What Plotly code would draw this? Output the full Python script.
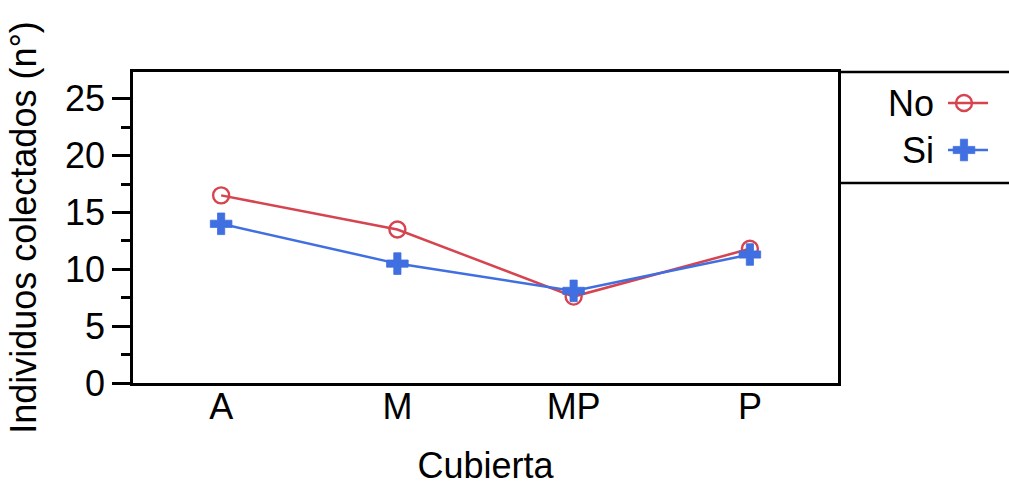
import plotly.graph_objects as go

# Individuos colectados por tipo de cubierta
categorias = ["A", "M", "MP", "P"]
grupos = ["No", "Si"]
valores_no = [16.5, 13.5, 7.6, 11.8]
valores_si = [14.0, 10.5, 8.1, 11.3]

colores = {"No": "#D6444F", "Si": "#3F6FE0"}
simbolos = {"No": "circle-open", "Si": "cross"}
tamanos = {"No": 16, "Si": 18}
bordes = {"No": 2.4, "Si": 0.8}
series = {"No": valores_no, "Si": valores_si}

FONT = "Liberation Sans, Arial, sans-serif"
W, H = 1009, 486
ML, MT, MB = 133, 72, 103
PLOT_RIGHT = 838
paper_w = W - ML
ph = H - MT - MB


def px_x(px):
    return (px - ML) / paper_w


def px_y(py):
    return (H - MB - py) / ph


x_idx = list(range(len(categorias)))
x_range = [-0.5, len(categorias) - 0.5]
main_dom = [0, px_x(PLOT_RIGHT)]

fig = go.Figure()
for g in grupos:
    fig.add_trace(go.Scatter(
        x=x_idx, y=series[g], name=g, mode="lines+markers",
        line=dict(color=colores[g], width=2.5),
        marker=dict(symbol=simbolos[g], size=tamanos[g],
                    color=colores[g], line=dict(color=colores[g], width=bordes[g])),
        showlegend=False,
    ))

# legend key glyphs (one row per group, text drawn to their left)
for fila, g in enumerate(grupos):
    yk = len(grupos) - 1 - fila
    fig.add_trace(go.Scatter(
        x=[0, 1], y=[yk, yk], mode="lines", xaxis="x2", yaxis="y2",
        line=dict(color=colores[g], width=2.5), showlegend=False,
        hoverinfo="skip",
    ))
    fig.add_trace(go.Scatter(
        x=[0.4], y=[yk], mode="markers", xaxis="x2", yaxis="y2",
        marker=dict(symbol=simbolos[g], size=tamanos[g], color=colores[g],
                    line=dict(color=colores[g], width=bordes[g])),
        showlegend=False, hoverinfo="skip", cliponaxis=False,
    ))
    fig.add_annotation(
        text=g, xref="paper", yref="y2", x=px_x(936), y=yk,
        xanchor="right", yanchor="middle", showarrow=False,
        font=dict(size=36, color="black"),
    )

fig.update_layout(
    width=W, height=H,
    margin=dict(l=ML, r=0, t=MT, b=MB, autoexpand=False),
    paper_bgcolor="white", plot_bgcolor="white",
    font=dict(family=FONT, size=36, color="black"),
    showlegend=False,
    xaxis=dict(
        domain=main_dom, range=x_range,
        tickmode="array", tickvals=x_idx, ticktext=categorias,
        ticks="", ticklen=0, ticklabelstandoff=-10,
        showgrid=False, zeroline=False,
        showline=True, linecolor="black", linewidth=2.5, mirror=True,
        tickfont=dict(size=36),
        title=dict(text="Cubierta", font=dict(size=36), standoff=46),
    ),
    # separator ticks between categories
    xaxis3=dict(
        domain=main_dom, range=x_range, overlaying="x", anchor="y",
        tickmode="array", tickvals=[i + 0.5 for i in x_idx[:-1]],
        showticklabels=False, ticks="outside", ticklen=15, tickwidth=2.5,
        tickcolor="black", showgrid=False, zeroline=False, showline=False,
        side="bottom",
    ),
    yaxis=dict(
        range=[0, 27.35],
        tickmode="array", tickvals=[0, 5, 10, 15, 20, 25],
        ticks="outside", ticklen=18, tickwidth=2.5, tickcolor="black",
        showgrid=False, zeroline=False,
        showline=True, linecolor="black", linewidth=2.5, mirror=True,
        tickfont=dict(size=36),
        minor=dict(dtick=2.5, tick0=0, ticks="outside", ticklen=9,
                   tickwidth=2.5, tickcolor="black", showgrid=False),
        title=dict(text="Individuos colectados (n°)", font=dict(size=36),
                   standoff=18),
    ),
    xaxis2=dict(domain=[px_x(944), px_x(992)], range=[-0.1, 1.1],
                anchor="y2", visible=False, fixedrange=True),
    yaxis2=dict(domain=[px_y(173.5), px_y(79.5)], range=[-0.5, 1.5],
                anchor="x2", visible=False, fixedrange=True),
)

# legend frame continuing the plot border to the right edge
for y0 in (1, px_y(183)):
    fig.add_shape(type="line", xref="paper", yref="paper",
                  x0=main_dom[1], x1=1, y0=y0, y1=y0,
                  line=dict(color="black", width=2.5))

fig.write_html("out.html")
